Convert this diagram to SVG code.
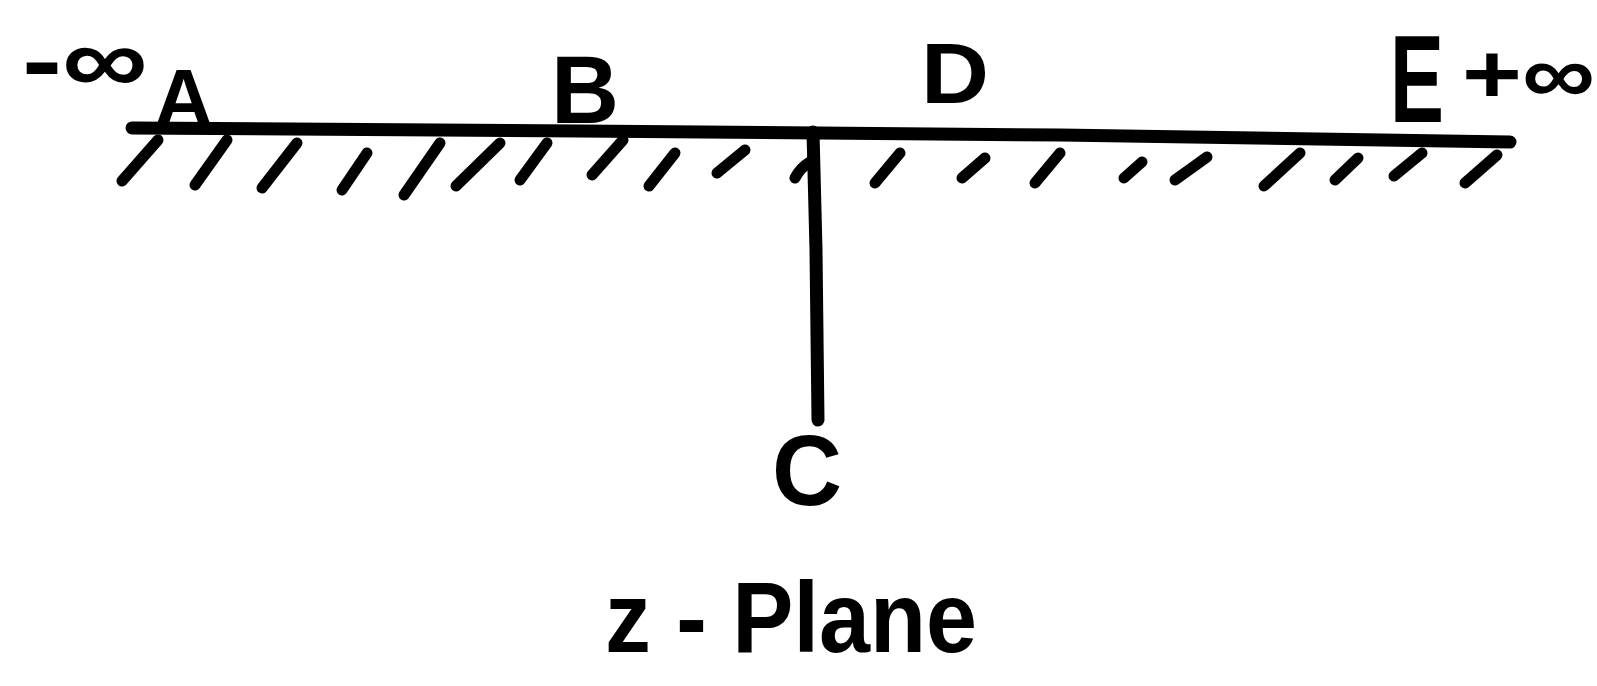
<svg xmlns="http://www.w3.org/2000/svg" width="1597" height="686" viewBox="0 0 1597 686">
<style>
.ln{stroke:#000;fill:none;stroke-linecap:round;stroke-linejoin:round}
.main{stroke-width:13}
.hat{stroke-width:11}
.lbl{font-family:"Liberation Sans",Arial,sans-serif;fill:#000}
</style>
<rect width="1597" height="686" fill="#fff"/>
<g id="connectors">
<path id="real-axis" class="ln main" d="M132 128 L580 131 L1060 135 L1510 142"/>
<path id="branch-cut" class="ln main" stroke-width="15" d="M813 132 L816 250 L818 420"/>
<path class="ln hat" d="M795 178 Q800 168 810 162"/>
</g>
<g id="hatching" class="ln hat">
<line x1="158" y1="140" x2="122" y2="181"/>
<line x1="227" y1="140" x2="195" y2="185"/>
<line x1="297" y1="143" x2="262" y2="188"/>
<line x1="367" y1="153" x2="342" y2="190"/>
<line x1="440" y1="143" x2="404" y2="195"/>
<line x1="500" y1="143" x2="456" y2="186"/>
<line x1="547" y1="143" x2="520" y2="180"/>
<line x1="623" y1="140" x2="592" y2="175"/>
<line x1="675" y1="153" x2="649" y2="186"/>
<line x1="745" y1="150" x2="717" y2="173"/>
<line x1="900" y1="153" x2="875" y2="183"/>
<line x1="985" y1="158" x2="962" y2="178"/>
<line x1="1060" y1="153" x2="1035" y2="183"/>
<line x1="1142" y1="162" x2="1124" y2="178"/>
<line x1="1207" y1="157" x2="1175" y2="180"/>
<line x1="1300" y1="153" x2="1264" y2="186"/>
<line x1="1358" y1="158" x2="1335" y2="180"/>
<line x1="1422" y1="153" x2="1394" y2="176"/>
<line x1="1497" y1="155" x2="1465" y2="183"/>
</g>
<g id="label-minus-inf"><text class="lbl" x="22" y="93" font-size="96" font-weight="bold" textLength="126" lengthAdjust="spacingAndGlyphs">-∞</text></g>
<g id="node-A"><text class="lbl" x="154" y="126" font-size="82" font-weight="bold">A</text></g>
<g id="node-B"><text class="lbl" x="551" y="123" font-size="96" font-weight="bold" textLength="68" lengthAdjust="spacingAndGlyphs">B</text></g>
<g id="node-D"><text class="lbl" x="921" y="103" font-size="86" font-weight="bold" textLength="68" lengthAdjust="spacingAndGlyphs">D</text></g>
<g id="node-E"><text class="lbl" x="1390" y="122" font-size="124" font-weight="bold" textLength="54" lengthAdjust="spacingAndGlyphs">E</text></g>
<g id="label-plus-inf"><text class="lbl" x="1462" y="103" font-size="84" font-weight="bold" textLength="133" lengthAdjust="spacingAndGlyphs">+∞</text></g>
<g id="node-C"><text class="lbl" x="772" y="505" font-size="100" font-weight="bold" textLength="70" lengthAdjust="spacingAndGlyphs">C</text></g>
<g id="caption"><text class="lbl" x="605" y="652" font-size="100" font-weight="bold" textLength="372" lengthAdjust="spacingAndGlyphs">z - Plane</text></g>
</svg>
